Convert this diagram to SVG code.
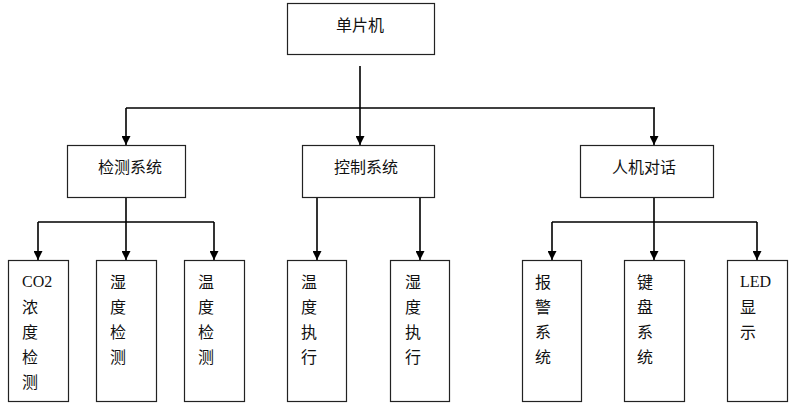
<svg xmlns="http://www.w3.org/2000/svg" width="797" height="410" viewBox="0 0 797 410">
<style>
.box{fill:#fff;stroke:#222;stroke-width:1.2}
.ln{fill:none;stroke:#000;stroke-width:1.6}
.t{font-family:"Liberation Serif","Noto Sans CJK SC",serif;font-size:16px;fill:#111}
.c{text-anchor:middle}
</style>
<defs>
<marker id="ah" viewBox="0 0 10 10" refX="10" refY="5" markerWidth="9" markerHeight="9" markerUnits="userSpaceOnUse" orient="auto">
<path d="M0,0 L10,5 L0,10 Z" fill="#000"/>
</marker>
</defs>
<rect width="797" height="410" fill="#fff"/>
<g id="connectors">
<path class="ln" d="M360,66 V108"/>
<path class="ln" d="M126,108 H655"/>
<path class="ln" d="M126,108 V145" marker-end="url(#ah)"/>
<path class="ln" d="M360,108 V145" marker-end="url(#ah)"/>
<path class="ln" d="M654,108 V145" marker-end="url(#ah)"/>
<path class="ln" d="M126,197 V222 M38,222 H214"/>
<path class="ln" d="M38,222 V260" marker-end="url(#ah)"/>
<path class="ln" d="M126,222 V260" marker-end="url(#ah)"/>
<path class="ln" d="M214,222 V260" marker-end="url(#ah)"/>
<path class="ln" d="M317,197 V260" marker-end="url(#ah)"/>
<path class="ln" d="M420,197 V260" marker-end="url(#ah)"/>
<path class="ln" d="M654,197 V222 M552,222 H757"/>
<path class="ln" d="M552,222 V260" marker-end="url(#ah)"/>
<path class="ln" d="M654,222 V260" marker-end="url(#ah)"/>
<path class="ln" d="M757,222 V260" marker-end="url(#ah)"/>
</g>
<g id="mcu"><rect class="box" x="287.5" y="3.5" width="147" height="51"/><text class="t c" x="360" y="31">单片机</text></g>
<g id="detect"><rect class="box" x="67.5" y="145.5" width="118" height="52"/><text class="t c" x="130" y="173">检测系统</text></g>
<g id="control"><rect class="box" x="302.5" y="145.5" width="132" height="52"/><text class="t c" x="366" y="173">控制系统</text></g>
<g id="hmi"><rect class="box" x="580.5" y="145.5" width="133" height="52"/><text class="t c" x="644" y="173">人机对话</text></g>
<g id="co2"><rect class="box" x="8.5" y="260.5" width="60" height="141"/>
<text class="t" x="22" y="287">CO2</text><text class="t" x="22" y="313">浓</text><text class="t" x="22" y="338">度</text><text class="t" x="22" y="363">检</text><text class="t" x="22" y="388">测</text></g>
<g id="hum-det"><rect class="box" x="96.5" y="260.5" width="60" height="141"/>
<text class="t" x="110" y="288">湿</text><text class="t" x="110" y="313">度</text><text class="t" x="110" y="338">检</text><text class="t" x="110" y="363">测</text></g>
<g id="temp-det"><rect class="box" x="184.5" y="260.5" width="60" height="141"/>
<text class="t" x="198" y="288">温</text><text class="t" x="198" y="313">度</text><text class="t" x="198" y="338">检</text><text class="t" x="198" y="363">测</text></g>
<g id="temp-act"><rect class="box" x="287.5" y="260.5" width="59" height="141"/>
<text class="t" x="301" y="288">温</text><text class="t" x="301" y="313">度</text><text class="t" x="301" y="338">执</text><text class="t" x="301" y="363">行</text></g>
<g id="hum-act"><rect class="box" x="390.5" y="260.5" width="59" height="141"/>
<text class="t" x="405" y="288">湿</text><text class="t" x="405" y="313">度</text><text class="t" x="405" y="338">执</text><text class="t" x="405" y="363">行</text></g>
<g id="alarm"><rect class="box" x="522.5" y="260.5" width="59" height="141"/>
<text class="t" x="535" y="288">报</text><text class="t" x="535" y="313">警</text><text class="t" x="535" y="338">系</text><text class="t" x="535" y="363">统</text></g>
<g id="keyboard"><rect class="box" x="624.5" y="260.5" width="60" height="141"/>
<text class="t" x="637" y="288">键</text><text class="t" x="637" y="313">盘</text><text class="t" x="637" y="338">系</text><text class="t" x="637" y="363">统</text></g>
<g id="led"><rect class="box" x="727.5" y="260.5" width="60" height="141"/>
<text class="t" x="740" y="287">LED</text><text class="t" x="740" y="313">显</text><text class="t" x="740" y="338">示</text></g>
</svg>
